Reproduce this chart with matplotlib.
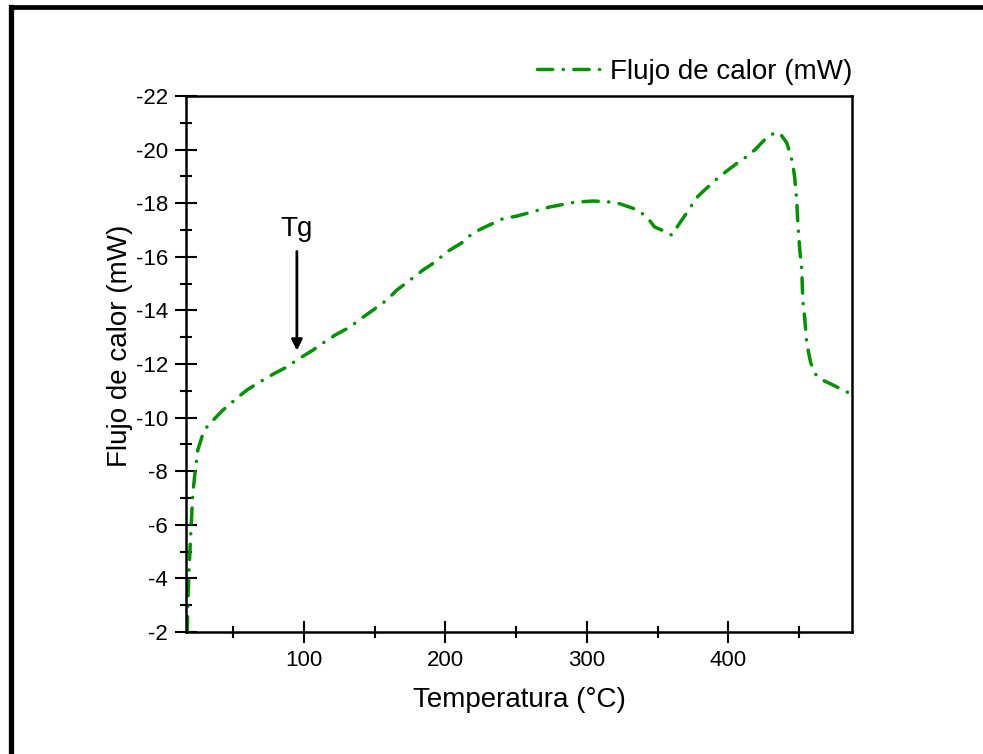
import matplotlib
matplotlib.use("Agg")
import matplotlib.pyplot as plt
from matplotlib.lines import Line2D
from matplotlib.ticker import MultipleLocator, FixedLocator

plt.rcParams['font.family'] = ['Liberation Sans', 'DejaVu Sans']
plt.rcParams['axes.unicode_minus'] = False

# DSC trace: temperature (°C) vs heat flow (mW)
temperature = [17.5, 18, 18.7, 19.4, 20.8, 21.5, 22.9, 25, 28, 31.4, 35.7, 42.7,
               52.6, 59.7, 67.5, 79.5, 88, 95, 106.4, 113.4, 122, 132.5, 141,
               148.8, 158.7, 165.7, 175, 184, 192.6, 201, 212.4, 219.4, 228,
               240.6, 250.5, 259.7, 273.8, 280.9, 291.5, 304.2, 314, 323.3, 336,
               343, 348, 355, 360, 365.7, 371, 378, 385.5, 392.6, 404.6, 411.7,
               418.8, 427.2, 432, 436.4, 441.4, 445.6, 447, 448.4, 449.2, 450.6,
               452, 452.7, 454, 455.5, 458.3, 462, 466.8, 473.9, 483.8, 486]
heat_flow = [-2.0, -3.2, -4.2, -5.06, -6.55, -7.2, -7.9, -8.8, -9.3, -9.65, -9.9,
             -10.28, -10.73, -11.03, -11.29, -11.66, -11.89, -12.15, -12.52,
             -12.78, -13.08, -13.38, -13.72, -14.01, -14.39, -14.76, -15.13,
             -15.5, -15.8, -16.18, -16.55, -16.89, -17.11, -17.42, -17.52,
             -17.65, -17.86, -17.93, -18.04, -18.08, -18.06, -17.98, -17.75,
             -17.45, -17.11, -16.95, -16.81, -17.26, -17.67, -18.23, -18.6,
             -18.94, -19.43, -19.69, -19.99, -20.45, -20.6, -20.62, -20.25,
             -19.5, -18.94, -18.12, -17.26, -16.25, -15.5, -14.39, -13.75,
             -12.78, -12.04, -11.6, -11.4, -11.22, -10.96, -10.9]

x_major = [100, 200, 300, 400]
x_minor = [50, 150, 250, 350, 450]
series_label = "Flujo de calor (mW)"
tg_temperature = 95
tg_value = -12.5

W, H = 983, 754
fig = plt.figure(figsize=(W / 100, H / 100), dpi=100)
fig.patch.set_facecolor('white')

L, R, B, T = 186, 852, 632, 96
ax = fig.add_axes([L / W, 1 - B / H, (R - L) / W, (B - T) / H])

green = '#009000'
line, = ax.plot(temperature, heat_flow, color=green, lw=2.5,
                linestyle=(0, (4.4, 3.0, 0.05, 3.0)), dash_capstyle='round',
                label=series_label)

ax.set_xlim(16.6, 487.5)
ax.set_ylim(-2, -22)

ax.xaxis.set_major_locator(FixedLocator(x_major))
ax.xaxis.set_minor_locator(FixedLocator(x_minor))
ax.yaxis.set_major_locator(MultipleLocator(2))
ax.yaxis.set_minor_locator(MultipleLocator(1))

for s in ax.spines.values():
    s.set_linewidth(1.8)
ax.tick_params(which='major', direction='inout', length=16, width=1.5,
               labelsize=16, pad=5, top=False, right=False)
ax.tick_params(which='minor', direction='inout', length=8, width=1.5,
               top=False, right=False)

ax.set_xlabel("Temperatura (°C)", fontsize=20)
ax.set_ylabel("Flujo de calor (mW)", fontsize=20)
ax.xaxis.set_label_coords(0.5, -0.102)
ax.yaxis.set_label_coords(-0.08, 0.534)

# Glass-transition marker
ax.annotate("", xy=(tg_temperature, tg_value), xytext=(tg_temperature, -16.2),
            arrowprops=dict(arrowstyle='-|>', lw=2, color='black',
                            mutation_scale=16, shrinkA=0, shrinkB=0))
ax.text(tg_temperature, -16.55, "Tg", ha='center', va='bottom', fontsize=20)

fig.legend(handles=[line], loc='center right',
           bbox_to_anchor=(R / W, 1 - 72 / H), frameon=False, fontsize=20,
           handlelength=2.3, handletextpad=0.3, borderpad=0, borderaxespad=0)

# Outer frame edges
fig.add_artist(Line2D([10.5 / W, 10.5 / W], [0, 1 - 7 / H], color='black',
                      lw=3.8, transform=fig.transFigure, solid_capstyle='projecting'))
fig.add_artist(Line2D([10.5 / W, 1], [1 - 7 / H, 1 - 7 / H], color='black',
                      lw=3.4, transform=fig.transFigure, solid_capstyle='projecting'))

fig.savefig("out.png", dpi=100)
